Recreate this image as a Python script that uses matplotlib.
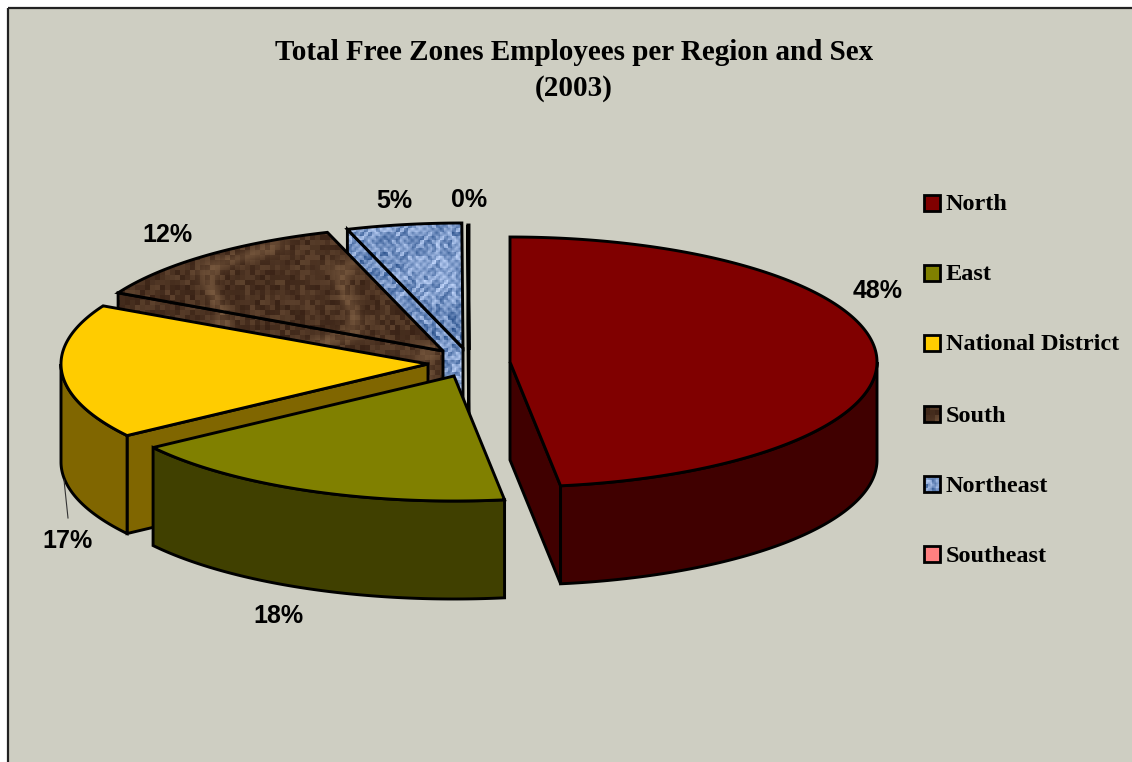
import numpy as np
import matplotlib
matplotlib.use("Agg")
import matplotlib.pyplot as plt
from matplotlib.patches import Polygon, Rectangle

# ---- data
categories = ["North", "East", "National District", "South", "Northeast", "Southeast"]
shares = [47.8, 17.5, 17.4, 12.2, 5.05, 0.05]
pct_labels = ["48%", "18%", "17%", "12%", "5%", "0%"]

# ---- style and layout
top_colors = ["#800000", "#808000", "#FFCC00", "#5A3A24", "#7F9FDC", "#FF8080"]
side_colors = ["#400000", "#404000", "#806600", "#6E4E34", "#7F9FDC", "#804040"]
textures = [None, None, None, "marble", "weave", None]
RX, RY, DEPTH = 367.0, 125.0, 98.0
CENTERS = [(510, 362), (454, 376), (428, 364), (443, 351), (463, 348), (469, 350)]
LABEL_POS = [(878, 291), (278, 616), (68, 541), (167, 235), (394, 201), (469, 200)]
BG = "#CECEC2"
LW = 2.1


def hash2(i, j):
    v = np.sin(i * 12.9898 + j * 78.233) * 43758.5453
    return v - np.floor(v)


def marble(h=762, w=1132):
    jj, ii = np.mgrid[0:h, 0:w]
    ci, cj = ii // 5, jj // 5
    blocks = hash2(ci, cj)
    vein = np.exp(-((np.sin((ii + 0.6 * jj) / 42.0) + 0.5 * np.sin((jj - 0.4 * ii) / 17.0)) ** 2) * 14)
    t = 0.38 * blocks + 0.3 * vein
    t = np.clip(t, 0, 1)[..., None]
    dark = np.array([58, 35, 22]) / 255
    light = np.array([150, 115, 82]) / 255
    return dark * (1 - t) + light * t


def weave(h=762, w=1132):
    jj, ii = np.mgrid[0:h, 0:w]
    ci, cj = ii // 4, jj // 4
    blocks = hash2(ci, cj)
    grid = 0.5 + 0.3 * np.cos(2 * np.pi * ii / 8.0) * np.cos(2 * np.pi * jj / 8.0)
    patch = 0.5 + 0.5 * np.sin(ii / 23.0 + 1.0) * np.sin(jj / 19.0)
    t = np.clip(0.55 * blocks + 0.5 * grid + 0.25 * patch - 0.1, 0, 1)[..., None]
    dark = np.array([35, 75, 135]) / 255
    light = np.array([195, 215, 252]) / 255
    return dark * (1 - t) + light * t


TEX = {"marble": marble(), "weave": weave()}

fig = plt.figure(figsize=(11.32, 7.62), dpi=100, facecolor="white")
ax = fig.add_axes([0, 0, 1, 1])
ax.set_xlim(0, 1132)
ax.set_ylim(762, 0)
ax.axis("off")

ax.add_patch(Rectangle((8, 8), 1130, 760, fc=BG, ec="none", zorder=0))
ax.plot([8, 8], [8, 762], color="#222222", lw=1.6, zorder=1, solid_capstyle="butt")
ax.plot([8, 1132], [8, 8], color="#222222", lw=1.6, zorder=1, solid_capstyle="butt")

z = [10]


def face(pts, color, tex):
    z[0] += 3
    if tex:
        im = ax.imshow(TEX[tex], extent=(0, 1132, 762, 0), aspect="auto", zorder=z[0], interpolation="nearest")
        p = Polygon(pts, closed=True, fc="none", ec="none", transform=ax.transData)
        ax.add_patch(p)
        im.set_clip_path(p)
        ax.add_patch(Polygon(pts, closed=True, fc="none", ec="black", lw=LW, joinstyle="miter", zorder=z[0] + 1))
    else:
        ax.add_patch(Polygon(pts, closed=True, fc=color, ec="black", lw=LW, joinstyle="miter", zorder=z[0] + 1))


def rim(c, a):
    a = np.radians(a)
    return np.column_stack([c[0] + RX * np.sin(a), c[1] - RY * np.cos(a)])


fracs = np.array(shares) / np.sum(shares)
edges = np.concatenate([[0], np.cumsum(fracs) * 360])
spans = [(edges[i], edges[i + 1]) for i in range(len(shares))]
paint_order = [5, 4, 3, 2, 1, 0]

for i in paint_order:
    a0, a1 = spans[i]
    c = CENTERS[i]
    mid = rim(c, (a0 + a1) / 2)[0]
    for a in (a0, a1):
        P = rim(c, a)[0]
        dx = P[0] - c[0]
        if abs(dx) < 1e-6:
            continue
        if mid[1] < c[1] + (mid[0] - c[0]) * (P[1] - c[1]) / dx:
            face([c, P, P + [0, DEPTH], (c[0], c[1] + DEPTH)], side_colors[i], textures[i])
    w0, w1 = max(a0, 90), min(a1, 270)
    if w1 > w0:
        arc = rim(c, np.linspace(w0, w1, 120))
        face(np.vstack([arc, arc[::-1] + [0, DEPTH]]), side_colors[i], textures[i])
    arc = rim(c, np.linspace(a0, a1, 200))
    face(np.vstack([[c], arc]), top_colors[i], textures[i])

ax.plot([64, 68], [480, 518], color="#333333", lw=0.8, zorder=200)

for lab, (x, y) in zip(pct_labels, LABEL_POS):
    ax.text(x, y, lab, ha="center", va="center", family="Liberation Sans", weight="bold",
            fontsize=18, color="black", zorder=300)

ax.text(574, 52, "Total Free Zones Employees per Region and Sex", ha="center", va="center",
        family="Liberation Serif", weight="bold", fontsize=20.95, color="black", zorder=300)
ax.text(574, 89, "(2003)", ha="center", va="center",
        family="Liberation Serif", weight="bold", fontsize=20.95, color="black", zorder=300)

LEG_Y = [203, 273, 343, 414, 484, 554]
S = 16
for k, (name, y) in enumerate(zip(categories, LEG_Y)):
    x0 = 924
    pts = [(x0, y - S / 2), (x0 + S, y - S / 2), (x0 + S, y + S / 2), (x0, y + S / 2)]
    if textures[k]:
        im = ax.imshow(TEX[textures[k]], extent=(0, 1132, 762, 0), aspect="auto", zorder=250, interpolation="nearest")
        p = Polygon(pts, closed=True, fc="none", ec="none")
        ax.add_patch(p)
        im.set_clip_path(p)
        ax.add_patch(Polygon(pts, closed=True, fc="none", ec="black", lw=2, zorder=251, joinstyle="miter"))
    else:
        ax.add_patch(Polygon(pts, closed=True, fc=top_colors[k], ec="black", lw=2, zorder=251, joinstyle="miter"))
    ax.text(946, y + 2, name, ha="left", va="center", family="Liberation Serif", weight="bold",
            fontsize=17.5, color="black", zorder=300)

ax.set_xlim(0, 1132)
ax.set_ylim(762, 0)
fig.savefig("out.png", dpi=100, facecolor="white")
